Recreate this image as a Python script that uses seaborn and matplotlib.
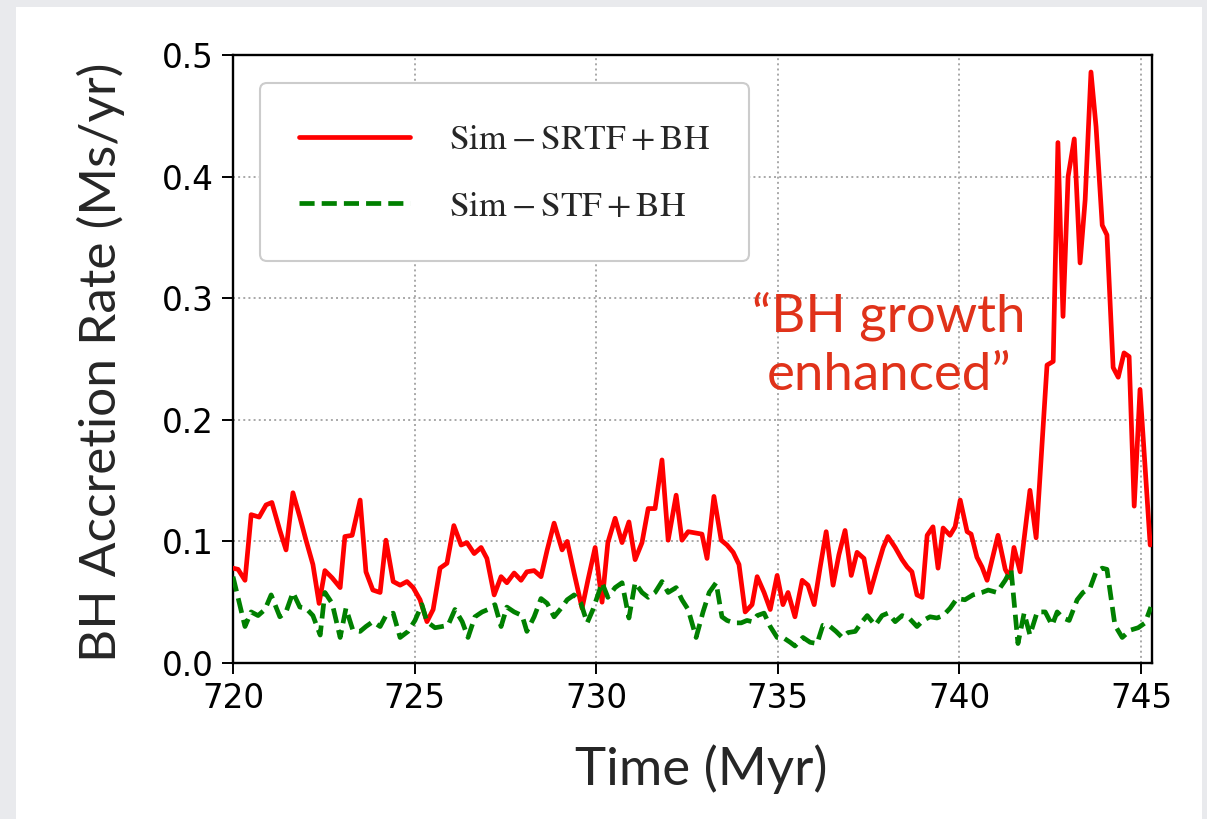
import numpy as np
import pandas as pd
import matplotlib
matplotlib.use("Agg")
import matplotlib.pyplot as plt
from matplotlib.patches import Rectangle
import seaborn as sns

# ---------------- data ----------------
red_time = [720.00, 720.14, 720.33, 720.50, 720.72, 720.91, 721.07, 721.29, 721.46, 721.65,
            721.84, 722.01, 722.20, 722.37, 722.53, 722.73, 722.95, 723.08, 723.28, 723.50,
            723.66, 723.85, 724.05, 724.21, 724.41, 724.60, 724.79, 724.96, 725.15, 725.34,
            725.51, 725.70, 725.89, 726.08, 726.28, 726.44, 726.64, 726.83, 726.99, 727.19,
            727.38, 727.54, 727.74, 727.93, 728.09, 728.29, 728.48, 728.65, 728.84, 729.06,
            729.20, 729.39, 729.61, 729.77, 729.97, 730.16, 730.32, 730.52, 730.71, 730.90,
            731.07, 731.26, 731.43, 731.62, 731.81, 731.98, 732.20, 732.36, 732.53, 732.72,
            732.91, 733.05, 733.24, 733.44, 733.60, 733.77, 733.93, 734.10, 734.29, 734.43,
            734.62, 734.79, 734.98, 735.14, 735.28, 735.47, 735.67, 735.83, 736.00, 736.16,
            736.33, 736.52, 736.68, 736.85, 737.02, 737.18, 737.37, 737.54, 737.73, 737.90,
            738.03, 738.23, 738.42, 738.56, 738.69, 738.83, 738.97, 739.11, 739.27, 739.41,
            739.55, 739.74, 739.88, 740.02, 740.21, 740.32, 740.48, 740.62, 740.76, 741.06,
            741.26, 741.39, 741.50, 741.67, 741.94, 742.11, 742.41, 742.58, 742.71, 742.85,
            742.99, 743.16, 743.32, 743.46, 743.62, 743.76, 743.93, 744.06, 744.23, 744.37,
            744.53, 744.67, 744.81, 744.97, 745.25]
red_rate = [0.078, 0.077, 0.068, 0.122, 0.120, 0.130, 0.132, 0.109, 0.093, 0.140,
            0.120, 0.101, 0.081, 0.049, 0.076, 0.070, 0.062, 0.104, 0.105, 0.134,
            0.075, 0.060, 0.058, 0.101, 0.067, 0.064, 0.067, 0.062, 0.052, 0.034,
            0.044, 0.078, 0.082, 0.113, 0.097, 0.099, 0.090, 0.095, 0.086, 0.056,
            0.071, 0.066, 0.074, 0.068, 0.075, 0.076, 0.071, 0.093, 0.115, 0.093,
            0.100, 0.074, 0.045, 0.068, 0.095, 0.050, 0.099, 0.119, 0.099, 0.116,
            0.085, 0.099, 0.127, 0.127, 0.167, 0.101, 0.138, 0.101, 0.108, 0.107,
            0.106, 0.086, 0.137, 0.101, 0.097, 0.091, 0.081, 0.042, 0.048, 0.071,
            0.058, 0.044, 0.072, 0.048, 0.058, 0.038, 0.068, 0.064, 0.048, 0.078,
            0.108, 0.064, 0.089, 0.109, 0.072, 0.091, 0.086, 0.058, 0.078, 0.095,
            0.104, 0.095, 0.085, 0.079, 0.075, 0.056, 0.054, 0.105, 0.112, 0.078,
            0.111, 0.105, 0.112, 0.134, 0.108, 0.106, 0.087, 0.079, 0.068, 0.105,
            0.077, 0.070, 0.095, 0.075, 0.142, 0.103, 0.245, 0.248, 0.428, 0.285,
            0.400, 0.431, 0.329, 0.381, 0.486, 0.441, 0.360, 0.352, 0.243, 0.235,
            0.255, 0.252, 0.129, 0.225, 0.097]

green_time = [720.00, 720.33, 720.50, 720.69, 720.88, 721.05, 721.29, 721.46, 721.65, 721.84,
              722.01, 722.20, 722.40, 722.53, 722.73, 722.95, 723.11, 723.30, 723.50, 723.66,
              723.85, 724.05, 724.21, 724.41, 724.60, 724.82, 725.01, 725.20, 725.34, 725.56,
              725.75, 725.92, 726.11, 726.31, 726.47, 726.66, 726.86, 727.02, 727.21, 727.38,
              727.54, 727.74, 727.96, 728.09, 728.29, 728.48, 728.65, 728.84, 729.06, 729.20,
              729.39, 729.58, 729.75, 729.91, 730.16, 730.32, 730.52, 730.71, 730.90, 731.07,
              731.26, 731.43, 731.62, 731.81, 731.98, 732.20, 732.36, 732.53, 732.75, 732.94,
              733.11, 733.30, 733.46, 733.60, 733.79, 733.99, 734.15, 734.29, 734.43, 734.62,
              734.79, 734.98, 735.14, 735.34, 735.47, 735.69, 735.89, 736.08, 736.24, 736.44,
              736.60, 736.77, 736.93, 737.13, 737.32, 737.46, 737.68, 737.87, 738.03, 738.23,
              738.42, 738.61, 738.83, 739.00, 739.19, 739.38, 739.55, 739.74, 739.93, 740.15,
              740.37, 740.62, 740.79, 741.03, 741.26, 741.42, 741.61, 741.78, 741.94, 742.14,
              742.36, 742.55, 742.69, 742.85, 743.02, 743.24, 743.40, 743.60, 743.76, 743.93,
              744.06, 744.28, 744.48, 744.70, 744.92, 745.11, 745.27]
green_rate = [0.071, 0.030, 0.042, 0.039, 0.044, 0.056, 0.038, 0.042, 0.058, 0.046,
              0.045, 0.039, 0.023, 0.058, 0.049, 0.021, 0.045, 0.027, 0.026, 0.030,
              0.034, 0.030, 0.039, 0.041, 0.021, 0.026, 0.035, 0.048, 0.034, 0.029,
              0.030, 0.031, 0.044, 0.034, 0.021, 0.038, 0.042, 0.044, 0.048, 0.030,
              0.046, 0.042, 0.039, 0.026, 0.038, 0.053, 0.049, 0.038, 0.046, 0.052,
              0.056, 0.049, 0.033, 0.044, 0.066, 0.054, 0.062, 0.066, 0.037, 0.066,
              0.058, 0.054, 0.058, 0.067, 0.058, 0.062, 0.052, 0.044, 0.021, 0.042,
              0.058, 0.066, 0.038, 0.035, 0.033, 0.033, 0.035, 0.034, 0.039, 0.041,
              0.030, 0.021, 0.021, 0.017, 0.014, 0.021, 0.017, 0.016, 0.031, 0.030,
              0.026, 0.021, 0.025, 0.026, 0.034, 0.039, 0.031, 0.039, 0.041, 0.034,
              0.039, 0.037, 0.030, 0.035, 0.038, 0.037, 0.039, 0.045, 0.053, 0.052,
              0.056, 0.058, 0.060, 0.058, 0.068, 0.077, 0.016, 0.041, 0.023, 0.042,
              0.042, 0.031, 0.042, 0.037, 0.035, 0.052, 0.058, 0.062, 0.075, 0.078,
              0.077, 0.031, 0.021, 0.027, 0.029, 0.033, 0.046]

x_ticks = [720, 725, 730, 735, 740, 745]
y_ticks = [0.0, 0.1, 0.2, 0.3, 0.4, 0.5]
series_labels = [r"$\mathrm{Sim-SRTF+BH}$", r"$\mathrm{Sim-STF+BH}$"]
x_label = "Time (Myr)"
y_label = "BH Accretion Rate (Ms/yr)"
note_text = "\u201cBH growth\nenhanced\u201d"

# ---------------- figure ----------------
sns.set_style("white")
plt.rcParams["font.family"] = ["DejaVu Sans"]
plt.rcParams["mathtext.fontset"] = "stix"

W, H = 1207, 819
fig = plt.figure(figsize=(W / 100, H / 100), dpi=100)
fig.patch.set_facecolor("#e9eaed")
panel = Rectangle((16 / W, 0), (1202 - 16) / W, (H - 7) / H,
                  transform=fig.transFigure, facecolor="white",
                  edgecolor="none", zorder=-10)
fig.patches.append(panel)

ax = fig.add_axes([233 / W, 1 - 663 / H, (1152 - 233) / W, (663 - 55) / H])
ax.set_zorder(1)
ax.set_facecolor("white")

df_red = pd.DataFrame({"t": red_time, "rate": red_rate})
df_green = pd.DataFrame({"t": green_time, "rate": green_rate})

sns.lineplot(data=df_red, x="t", y="rate", ax=ax, color="red", linewidth=3.4,
             label=series_labels[0], estimator=None, sort=False, zorder=3)
sns.lineplot(data=df_green, x="t", y="rate", ax=ax, color="green", linewidth=3.4,
             linestyle=(0, (3.2, 1.5)), label=series_labels[1], estimator=None,
             sort=False, zorder=3)

ax.set_xlim(720, 745.3)
ax.set_ylim(0, 0.5)
ax.set_xticks(x_ticks)
ax.set_yticks(y_ticks)
ax.set_yticklabels([f"{v:.1f}" for v in y_ticks])
ax.grid(True, linestyle=":", color="#a8a8a8", linewidth=1.4)
ax.set_axisbelow(True)

for sp in ax.spines.values():
    sp.set_color("black")
    sp.set_linewidth(1.7)
ax.tick_params(axis="both", which="major", direction="out", length=8, width=1.4,
               labelsize=23.5, color="black", labelcolor="black",
               bottom=True, left=True, top=False, right=False)
ax.tick_params(axis="y", pad=6)
ax.tick_params(axis="x", pad=6)

ax.set_xlabel(x_label, fontsize=38, family=["Lato", "DejaVu Sans"])
ax.set_ylabel(y_label, fontsize=37, family=["Lato", "DejaVu Sans"])
ax.xaxis.set_label_coords(0.509, -0.133)
ax.yaxis.set_label_coords(-0.118, 0.495)

leg = ax.legend(loc="upper left", bbox_to_anchor=(0.029, 0.954), borderaxespad=0,
                fontsize=25.5, frameon=True, fancybox=True, framealpha=1,
                edgecolor="#cccccc", handlelength=3.15, handletextpad=1.1,
                borderpad=1.1, labelspacing=0.92)
leg.get_frame().set_linewidth(1.5)

ax.text(0.714, 0.523, note_text, transform=ax.transAxes, ha="center", va="center",
        fontsize=38, color="#e0321a", family=["Lato", "DejaVu Sans"],
        linespacing=1.28, zorder=4)

fig.savefig("out.png", dpi=100, facecolor=fig.get_facecolor())
